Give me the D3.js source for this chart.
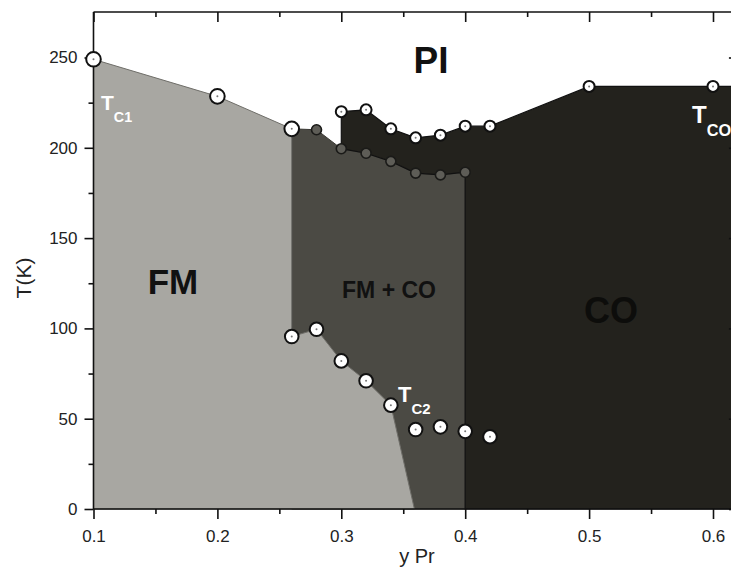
<!DOCTYPE html>
<html>
<head>
<meta charset="utf-8">
<script src="https://cdn.jsdelivr.net/npm/d3@7"></script>
<style>
  body { margin: 0; background: #fff; }
  svg { display: block; font-family: "Liberation Sans", Arial, sans-serif; }
</style>
</head>
<body>
<div id="chart"></div>
<script>
// phase diagram data, y Pr vs T(K)
var tc1X = [0.1, 0.2, 0.26];
var tc1T = [249, 228.5, 210.5];

var coTopX = [0.30, 0.32, 0.34, 0.36, 0.38, 0.40, 0.42, 0.50, 0.60];
var coTopT = [220, 221, 210.5, 205.5, 207, 212, 212, 234, 234];

var coBotX = [0.28, 0.30, 0.32, 0.34, 0.36, 0.38, 0.40];
var coBotT = [210, 199.5, 197, 192.5, 186, 185, 186.5];

var tc2X = [0.26, 0.28, 0.30, 0.32, 0.34, 0.36, 0.38, 0.40, 0.42];
var tc2T = [95.5, 99.5, 82, 71, 57.5, 44, 45.5, 43, 40];

// FM / FM+CO border goes from the Tc2 points down to the axis
var fmEdgeX = [0.26, 0.28, 0.30, 0.32, 0.34, 0.359];
var fmEdgeT = [95.5, 99.5, 82, 71, 57.5, 0];

var xMajor = [0.1, 0.2, 0.3, 0.4, 0.5, 0.6];
var xMinor = [0.15, 0.25, 0.35, 0.45, 0.55];
var yMajor = [0, 50, 100, 150, 200, 250];
var yMinor = [25, 75, 125, 175, 225];

var width = 731, height = 570;
var xEnd = 0.6185; // plot is cut off at the right

var svg = d3.select("#chart").append("svg")
    .attr("width", width)
    .attr("height", height);

var x = d3.scaleLinear().domain([0.1, 0.6]).range([93.5, 713]);
var y = d3.scaleLinear().domain([0, 250]).range([509, 57.5]);
var yTop = y.invert(12);

function pts(xs, ts) {
    return xs.map(function (d, i) { return [x(d), y(ts[i])]; });
}

var line = d3.line();

// FM + CO region
var mid = [[x(0.26), y(0)], [x(0.26), y(tc1T[2])]]
    .concat(pts(coBotX, coBotT))
    .concat([[x(0.40), y(0)]]);
svg.append("path")
    .attr("d", line(mid) + "Z")
    .attr("fill", "#4b4a44")
    .attr("stroke", "#3a3934")
    .attr("stroke-width", 1);

// CO region
var lastT = coTopT[coTopT.length - 1];
var co = [[x(0.30), y(coBotT[1])]]
    .concat(pts(coTopX, coTopT))
    .concat([[x(xEnd), y(lastT)], [x(xEnd), y(0)], [x(0.40), y(0)]])
    .concat(pts(coBotX.slice(1).reverse(), coBotT.slice(1).reverse()));
svg.append("path")
    .attr("d", line(co) + "Z")
    .attr("fill", "#23221d")
    .attr("stroke", "#111", "")
    .attr("stroke-width", 1.2);

// FM region
var fm = [[x(0.1), y(0)]]
    .concat(pts(tc1X, tc1T))
    .concat(pts(fmEdgeX, fmEdgeT));
svg.append("path")
    .attr("d", line(fm) + "Z")
    .attr("fill", "#a8a7a2")
    .attr("stroke", "#6f6e69")
    .attr("stroke-width", 1);

// axes
function noLabel() { return ""; }

svg.append("g")
    .attr("transform", "translate(0," + y(0) + ")")
    .call(d3.axisBottom(x).tickValues(xMajor).tickSize(10).tickPadding(11)
        .tickFormat(d3.format(".1f")))
    .call(function (g) { g.select(".domain").attr("d", "M" + x(0.1) + ",0H" + x(xEnd)); });
svg.append("g")
    .attr("transform", "translate(0," + y(0) + ")")
    .call(d3.axisBottom(x).tickValues(xMinor).tickSize(5).tickFormat(noLabel))
    .call(function (g) { g.select(".domain").remove(); });

svg.append("g")
    .attr("transform", "translate(0,12)")
    .call(d3.axisBottom(x).tickValues(xMajor).tickSize(10).tickFormat(noLabel))
    .call(function (g) { g.select(".domain").attr("d", "M" + x(0.1) + ",0H" + x(xEnd)); });
svg.append("g")
    .attr("transform", "translate(0,12)")
    .call(d3.axisBottom(x).tickValues(xMinor).tickSize(5).tickFormat(noLabel))
    .call(function (g) { g.select(".domain").remove(); });

svg.append("g")
    .attr("transform", "translate(" + x(0.1) + ",0)")
    .call(d3.axisLeft(y).tickValues(yMajor).tickSize(9).tickPadding(7))
    .call(function (g) { g.select(".domain").attr("d", "M0," + y(0) + "V12"); });
svg.append("g")
    .attr("transform", "translate(" + x(0.1) + ",0)")
    .call(d3.axisLeft(y).tickValues(yMinor).tickSize(5).tickFormat(noLabel))
    .call(function (g) { g.select(".domain").remove(); });

svg.append("g")
    .attr("transform", "translate(" + x(xEnd) + ",0)")
    .call(d3.axisRight(y).tickValues(yMajor).tickSize(-7).tickFormat(noLabel))
    .call(function (g) { g.select(".domain").attr("d", "M0," + y(0) + "V12"); });

svg.selectAll(".tick text")
    .attr("font-size", 17)
    .attr("font-family", "Liberation Sans, Arial, sans-serif")
    .attr("fill", "#222");
svg.selectAll(".domain, .tick line")
    .attr("stroke", "#111")
    .attr("stroke-width", 1.6);

// axis titles
svg.append("text")
    .attr("x", 417).attr("y", 563)
    .attr("text-anchor", "middle")
    .attr("font-size", 20)
    .attr("fill", "#222")
    .text("y Pr");

svg.append("text")
    .attr("transform", "translate(31,278)rotate(-90)")
    .attr("text-anchor", "middle")
    .attr("font-size", 21)
    .attr("fill", "#222")
    .text("T(K)");

// points
function whiteDots(xs, ts, r) {
    var g = svg.append("g");
    var data = xs.map(function (d, i) { return [d, ts[i]]; });
    g.selectAll("circle.o").data(data).enter().append("circle")
        .attr("cx", function (d) { return x(d[0]); })
        .attr("cy", function (d) { return y(d[1]); })
        .attr("r", r)
        .attr("fill", "#fff")
        .attr("stroke", "#111")
        .attr("stroke-width", 2);
    g.selectAll("circle.c").data(data).enter().append("circle")
        .attr("cx", function (d) { return x(d[0]); })
        .attr("cy", function (d) { return y(d[1]); })
        .attr("r", 1)
        .attr("fill", "#777");
}

var darkData = coBotX.map(function (d, i) { return [d, coBotT[i]]; });
svg.append("g").selectAll("circle").data(darkData).enter().append("circle")
    .attr("cx", function (d) { return x(d[0]); })
    .attr("cy", function (d) { return y(d[1]); })
    .attr("r", 5)
    .attr("fill", "#5e5d57")
    .attr("stroke", "#1a1a18")
    .attr("stroke-width", 1.6);

whiteDots(tc1X, tc1T, 7.3);
whiteDots(coTopX, coTopT, 5.5);
whiteDots(tc2X, tc2T, 6.8);

// region labels
function label(txt, px, py, size, fill) {
    return svg.append("text")
        .attr("x", px).attr("y", py)
        .attr("text-anchor", "middle")
        .attr("font-size", size)
        .attr("font-weight", "bold")
        .attr("fill", fill)
        .text(txt);
}
label("PI", 431, 73, 37, "#111");
label("FM", 173, 294, 35, "#111");
label("FM + CO", 389, 298, 23, "#111");
label("CO", 611, 323, 36, "#0d0d0b");

function tLabel(sub, px, py, size) {
    var t = svg.append("text")
        .attr("x", px).attr("y", py)
        .attr("font-size", size)
        .attr("font-weight", "bold")
        .attr("fill", "#fff");
    t.append("tspan").text("T");
    t.append("tspan")
        .attr("dy", size * 0.55)
        .attr("font-size", size * 0.68)
        .text(sub);
}
tLabel("C1", 101, 110, 21);
tLabel("C2", 398, 402, 22);
tLabel("CO", 692, 123, 24);
</script>
</body>
</html>
